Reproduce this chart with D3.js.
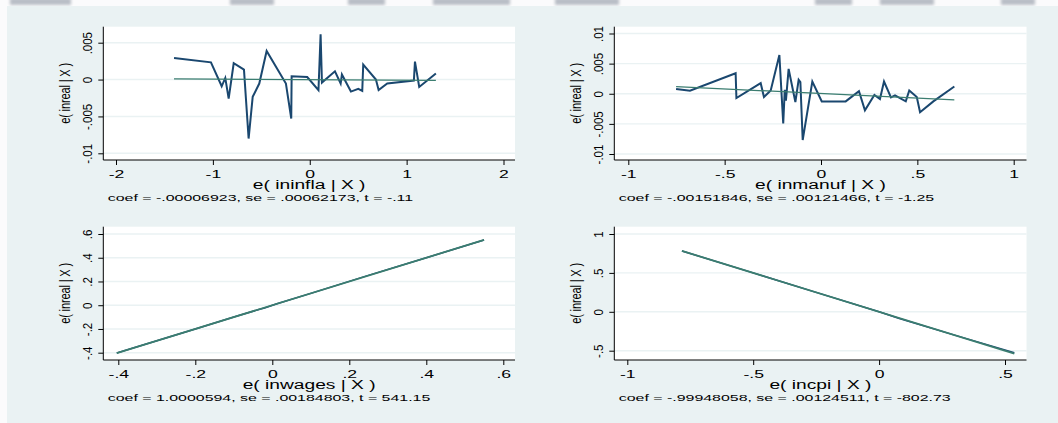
<!DOCTYPE html>
<html>
<head>
<meta charset="utf-8">
<script src="https://cdn.jsdelivr.net/npm/d3@7"></script>
<style>
body { margin: 0; background: #fff; }
svg { display: block; font-family: "Liberation Sans", Arial, sans-serif; }
</style>
</head>
<body>
<div id="chart"></div>
<script>
const WIDTH = 1058;
const HEIGHT = 423;
const BG = "#eaf2f3";
const NAVY = "#1a476f";
const FIT = "#3b7d70";

// e( ininfla | X )
const inflaX = [-1.401, -1.020, -0.909, -0.872, -0.837, -0.785, -0.679, -0.631, -0.589, -0.521, -0.445, -0.246, -0.191, -0.187, -0.026, 0.090, 0.112, 0.126, 0.260, 0.319, 0.332, 0.425, 0.501, 0.542, 0.552, 0.683, 0.711, 0.800, 1.075, 1.086, 1.130, 1.302];
const inflaY = [0.00293, 0.00234, -0.00091, 0.00022, -0.00258, 0.00221, 0.00135, -0.0080, -0.00235, -0.00054, 0.00388, -0.00054, -0.00529, 0.00045, 0.00035, -0.00145, 0.00614, -0.00041, 0.00112, -0.00054, 0.00068, -0.00163, -0.00127, -0.00154, 0.00203, 0.0, -0.00141, -0.00054, -0.00014, 0.00244, -0.0010, 0.00081];
const inflaFitX = [-1.401, 1.302];
const inflaFitY = [0.0001, -0.0001];
const inflaXTicks = [-2, -1, 0, 1, 2];
const inflaXLabels = ["-2", "-1", "0", "1", "2"];
const inflaYTicks = [-0.01, -0.005, 0, 0.005];
const inflaYLabels = ["-.01", "-.005", "0", ".005"];

// e( inmanuf | X )
const manufX = [-0.752, -0.680, -0.443, -0.439, -0.313, -0.296, -0.261, -0.216, -0.196, -0.188, -0.182, -0.168, -0.133, -0.116, -0.107, -0.095, -0.045, 0.004, 0.128, 0.197, 0.228, 0.277, 0.306, 0.327, 0.363, 0.384, 0.440, 0.458, 0.497, 0.514, 0.583, 0.692];
const manufY = [0.00077, 0.00049, 0.00341, -0.00071, 0.00176, -0.00054, 0.00054, 0.00643, -0.00494, 0.00066, -0.00115, 0.00412, -0.00137, 0.00231, 0.00193, -0.00769, 0.00203, -0.00127, -0.00127, 0.00044, -0.00275, -0.00021, -0.00088, 0.00203, -0.00061, -0.00028, -0.00127, 0.00054, -0.00054, -0.00308, -0.00127, 0.0012];
const manufFitX = [-0.752, 0.692];
const manufFitY = [0.00118, -0.00101];
const manufXTicks = [-1, -0.5, 0, 0.5, 1];
const manufXLabels = ["-1", "-.5", "0", ".5", "1"];
const manufYTicks = [-0.01, -0.005, 0, 0.005, 0.01];
const manufYLabels = ["-.01", "-.005", "0", ".005", ".01"];

// e( inwages | X )
const wagesX = [-0.404, -0.300, -0.200, -0.100, -0.035, -0.020, 0.012, 0.100, 0.243, 0.400, 0.550];
const wagesY = [-0.402, -0.300, -0.200, -0.100, -0.036, -0.024, 0.012, 0.100, 0.245, 0.400, 0.549];
const wagesFitX = [-0.404, 0.550];
const wagesFitY = [-0.404, 0.550];
const wagesXTicks = [-0.4, -0.2, 0, 0.2, 0.4, 0.6];
const wagesXLabels = ["-.4", "-.2", "0", ".2", ".4", ".6"];
const wagesYTicks = [-0.4, -0.2, 0, 0.2, 0.4, 0.6];
const wagesYLabels = ["-.4", "-.2", "0", ".2", ".4", ".6"];

// e( incpi | X )
const cpiX = [-0.783, -0.500, -0.250, 0.000, 0.077, 0.123, 0.300, 0.537];
const cpiY = [0.782, 0.500, 0.250, 0.000, -0.084, -0.127, -0.300, -0.527];
const cpiFitX = [-0.783, 0.537];
const cpiFitY = [0.7825, -0.5367];
const cpiXTicks = [-1, -0.5, 0, 0.5];
const cpiXLabels = ["-1", "-.5", "0", ".5"];
const cpiYTicks = [-0.5, 0, 0.5, 1];
const cpiYLabels = ["-.5", "0", ".5", "1"];

const yTitle = "e( inreal | X )";
const xTitles = ["e( ininfla | X )", "e( inmanuf | X )", "e( inwages | X )", "e( incpi | X )"];
const coefTexts = [
  "coef = -.00006923, se = .00062173, t = -.11",
  "coef = -.00151846, se = .00121466, t = -1.25",
  "coef = 1.0000594, se = .00184803, t = 541.15",
  "coef = -.99948058, se = .00124511, t = -802.73"
];

// layout of the four plot regions
const panels = [
  {xs: inflaX, ys: inflaY, fx: inflaFitX, fy: inflaFitY, xt: inflaXTicks, xl: inflaXLabels, yt: inflaYTicks, yl: inflaYLabels,
   left: 103.3, right: 515, top: 26.7, bottom: 160, xr: [116, 503.5], yr: [153.3, 42.7]},
  {xs: manufX, ys: manufY, fx: manufFitX, fy: manufFitY, xt: manufXTicks, xl: manufXLabels, yt: manufYTicks, yl: manufYLabels,
   left: 614.3, right: 1026.5, top: 26.7, bottom: 160, xr: [628.3, 1013.7], yr: [154, 33.5]},
  {xs: wagesX, ys: wagesY, fx: wagesFitX, fy: wagesFitY, xt: wagesXTicks, xl: wagesXLabels, yt: wagesYTicks, yl: wagesYLabels,
   left: 103.3, right: 515, top: 226.7, bottom: 360, xr: [118.3, 503.3], yr: [352.7, 234]},
  {xs: cpiX, ys: cpiY, fx: cpiFitX, fy: cpiFitY, xt: cpiXTicks, xl: cpiXLabels, yt: cpiYTicks, yl: cpiYLabels,
   left: 614.3, right: 1026.5, top: 226.7, bottom: 360, xr: [627.3, 1005], yr: [350.7, 234]}
];

const svg = d3.select("#chart")
  .append("svg")
    .attr("width", WIDTH)
    .attr("height", HEIGHT);

// blurred page header strip
const blur = svg.append("defs").append("filter").attr("id", "blur");
blur.append("feGaussianBlur").attr("stdDeviation", 1.6);

svg.append("rect").attr("width", WIDTH).attr("height", HEIGHT).attr("fill", "#fbfbfc");
svg.append("rect")
  .attr("x", 7).attr("y", 6)
  .attr("width", WIDTH - 7).attr("height", HEIGHT - 6)
  .attr("fill", BG);

const headerBlocks = [[10, 71], [230, 274], [348, 385], [433, 510], [555, 619], [815, 852], [880, 934], [1001, 1035]];
svg.append("g").attr("filter", "url(#blur)")
  .selectAll("rect").data(headerBlocks).enter().append("rect")
    .attr("x", d => d[0]).attr("y", -2)
    .attr("width", d => d[1] - d[0]).attr("height", 7)
    .attr("fill", "#b9bec6");

function stretchText(g, x, y, str, size, sx) {
  return g.append("text")
    .attr("transform", "translate(" + x + "," + y + ") scale(" + sx + ",1)")
    .attr("text-anchor", "middle")
    .style("font-size", size + "px")
    .attr("fill", "#000")
    .text(str);
}

panels.forEach((p, k) => {
  const g = svg.append("g");

  const X_SCALE = d3.scaleLinear()
    .domain([p.xt[0], p.xt[p.xt.length - 1]])
    .range(p.xr);
  const Y_SCALE = d3.scaleLinear()
    .domain([p.yt[0], p.yt[p.yt.length - 1]])
    .range(p.yr);

  // plot region
  g.append("rect")
    .attr("x", p.left).attr("y", p.top)
    .attr("width", p.right - p.left).attr("height", p.bottom - p.top)
    .attr("fill", "#fff");

  // gridlines
  g.selectAll(".grid")
    .data(p.yt)
    .enter()
    .append("line")
      .attr("x1", p.left).attr("x2", p.right)
      .attr("y1", d => Y_SCALE(d)).attr("y2", d => Y_SCALE(d))
      .attr("stroke", BG)
      .attr("stroke-width", 1.4);

  // data line then fitted line
  const line = d3.line().x(d => X_SCALE(d[0])).y(d => Y_SCALE(d[1]));
  g.append("path")
    .datum(p.xs.map((d, i) => [d, p.ys[i]]))
    .attr("d", line)
    .attr("fill", "none")
    .attr("stroke", NAVY)
    .attr("stroke-width", k < 2 ? 2 : 1.5)
    .attr("stroke-linejoin", "miter");
  g.append("path")
    .datum(p.fx.map((d, i) => [d, p.fy[i]]))
    .attr("d", line)
    .attr("fill", "none")
    .attr("stroke", FIT)
    .attr("stroke-width", k < 2 ? 1.3 : 1.8);

  // x axis
  const xAxis = g.append("g")
    .attr("transform", "translate(0," + p.bottom + ")")
    .attr("color", "#000")
    .call(d3.axisBottom(X_SCALE).tickValues(p.xt).tickFormat((d, i) => p.xl[i]).tickSize(5).tickSizeOuter(0));
  xAxis.select(".domain").remove();
  xAxis.attr("font-family", null).attr("font-size", null);
  xAxis.selectAll("text")
    .attr("y", 18).attr("dy", null)
    .attr("transform", "scale(1.6,1)")
    .style("font-size", "11px");

  // y axis
  const yAxis = g.append("g")
    .attr("transform", "translate(" + p.left + ",0)")
    .attr("color", "#000")
    .call(d3.axisLeft(Y_SCALE).tickValues(p.yt).tickFormat((d, i) => p.yl[i]).tickSize(5).tickSizeOuter(0));
  yAxis.select(".domain").remove();
  yAxis.attr("font-family", null).attr("font-size", null);
  yAxis.selectAll("text")
    .attr("x", 0).attr("y", 0).attr("dy", null)
    .attr("text-anchor", "middle")
    .attr("transform", "translate(-11,0) scale(1.12,1) rotate(-90)")
    .style("font-size", "11.5px");

  // axis lines
  g.append("line")
    .attr("x1", p.left).attr("x2", p.right)
    .attr("y1", p.bottom).attr("y2", p.bottom)
    .attr("stroke", "#000").attr("stroke-width", 1);
  g.append("line")
    .attr("x1", p.left).attr("x2", p.left)
    .attr("y1", p.top).attr("y2", p.bottom)
    .attr("stroke", "#000").attr("stroke-width", 1);

  // titles
  g.append("text")
    .attr("transform", "translate(" + (p.left - 33.5) + "," + ((p.top + p.bottom) / 2) + ") scale(1.25,1) rotate(-90)")
    .attr("text-anchor", "middle")
    .attr("textLength", 61)
    .attr("lengthAdjust", "spacing")
    .style("font-size", "11px")
    .text(yTitle);
  stretchText(g, (p.left + p.right) / 2, p.bottom + 29, xTitles[k], 12, 1.6);
  stretchText(g, p.left + 4.5, p.bottom + 40.5, coefTexts[k], 9, 1.77)
    .attr("text-anchor", "start");
});
</script>
</body>
</html>
